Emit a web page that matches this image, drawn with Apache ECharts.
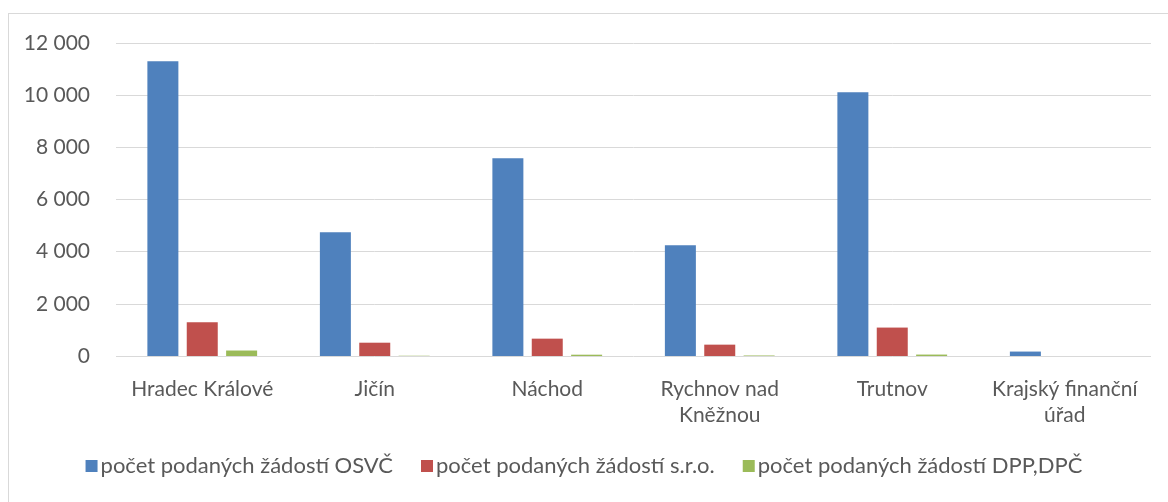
<!DOCTYPE html>
<html>
<head>
<meta charset="utf-8">
<script src="https://cdn.jsdelivr.net/npm/echarts@6/dist/echarts.min.js"></script>
<style>
  html, body { margin: 0; padding: 0; background: #fff; }
  #frame { position: absolute; left: 8px; top: 13px; width: 1200px; height: 520px; border: 1px solid #d9d9d9; box-sizing: border-box; }
  #main { position: absolute; left: 0; top: 0; width: 1168px; height: 502px; }
</style>
</head>
<body>
<div id="frame"></div>
<div id="main"></div>
<script>
var categories = ['Hradec Králové', 'Jičín', 'Náchod', 'Rychnov nad\nKněžnou', 'Trutnov', 'Krajský finanční\núřad'];
var osvcValues = [11300, 4740, 7580, 4250, 10110, 170];
var sroValues = [1290, 510, 665, 435, 1090, 0];
var dppValues = [210, 10, 50, 20, 55, 0];
var yTicks = [0, 2000, 4000, 6000, 8000, 10000, 12000];

var fontFam = 'Lato, "Open Sans", sans-serif';

var chart = echarts.init(document.getElementById('main'));
var option = {
    animation: false,
    textStyle: { fontFamily: fontFam },
    grid: {
        top: 43,
        left: 116,
        right: 17,
        bottom: 146
    },
    legend: {
        bottom: 20,
        left: 'center',
        itemWidth: 12,
        itemHeight: 12,
        itemGap: 28,
        icon: 'rect',
        textStyle: { color: '#595959', fontSize: 22, fontFamily: fontFam, padding: [0, 0, 0, -2] }
    },
    xAxis: {
        type: 'category',
        data: categories,
        axisLine: { show: false },
        axisTick: { show: false },
        axisLabel: { color: '#595959', fontSize: 21, margin: 20, lineHeight: 26, interval: 0 }
    },
    yAxis: {
        type: 'value',
        min: yTicks[0],
        max: yTicks[yTicks.length - 1],
        interval: 2000,
        axisLine: { show: false },
        axisTick: { show: false },
        splitLine: { lineStyle: { color: '#d9d9d9', width: 1 } },
        axisLabel: {
            color: '#595959',
            fontSize: 21,
            margin: 26,
            formatter: function (v) {
                return String(v).replace(/\B(?=(\d{3})+(?!\d))/g, ' ');
            }
        }
    },
    series: [{
        name: 'počet podaných žádostí OSVČ',
        type: 'bar',
        barWidth: 31,
        barGap: '27%',
        itemStyle: { color: '#4f81bd' },
        data: osvcValues
    }, {
        name: 'počet podaných žádostí s.r.o.',
        type: 'bar',
        barWidth: 31,
        barGap: '27%',
        itemStyle: { color: '#c0504d' },
        data: sroValues
    }, {
        name: 'počet podaných žádostí DPP,DPČ',
        type: 'bar',
        barWidth: 31,
        barGap: '27%',
        itemStyle: { color: '#9bbb59' },
        data: dppValues
    }]
};
chart.setOption(option);
</script>
</body>
</html>
